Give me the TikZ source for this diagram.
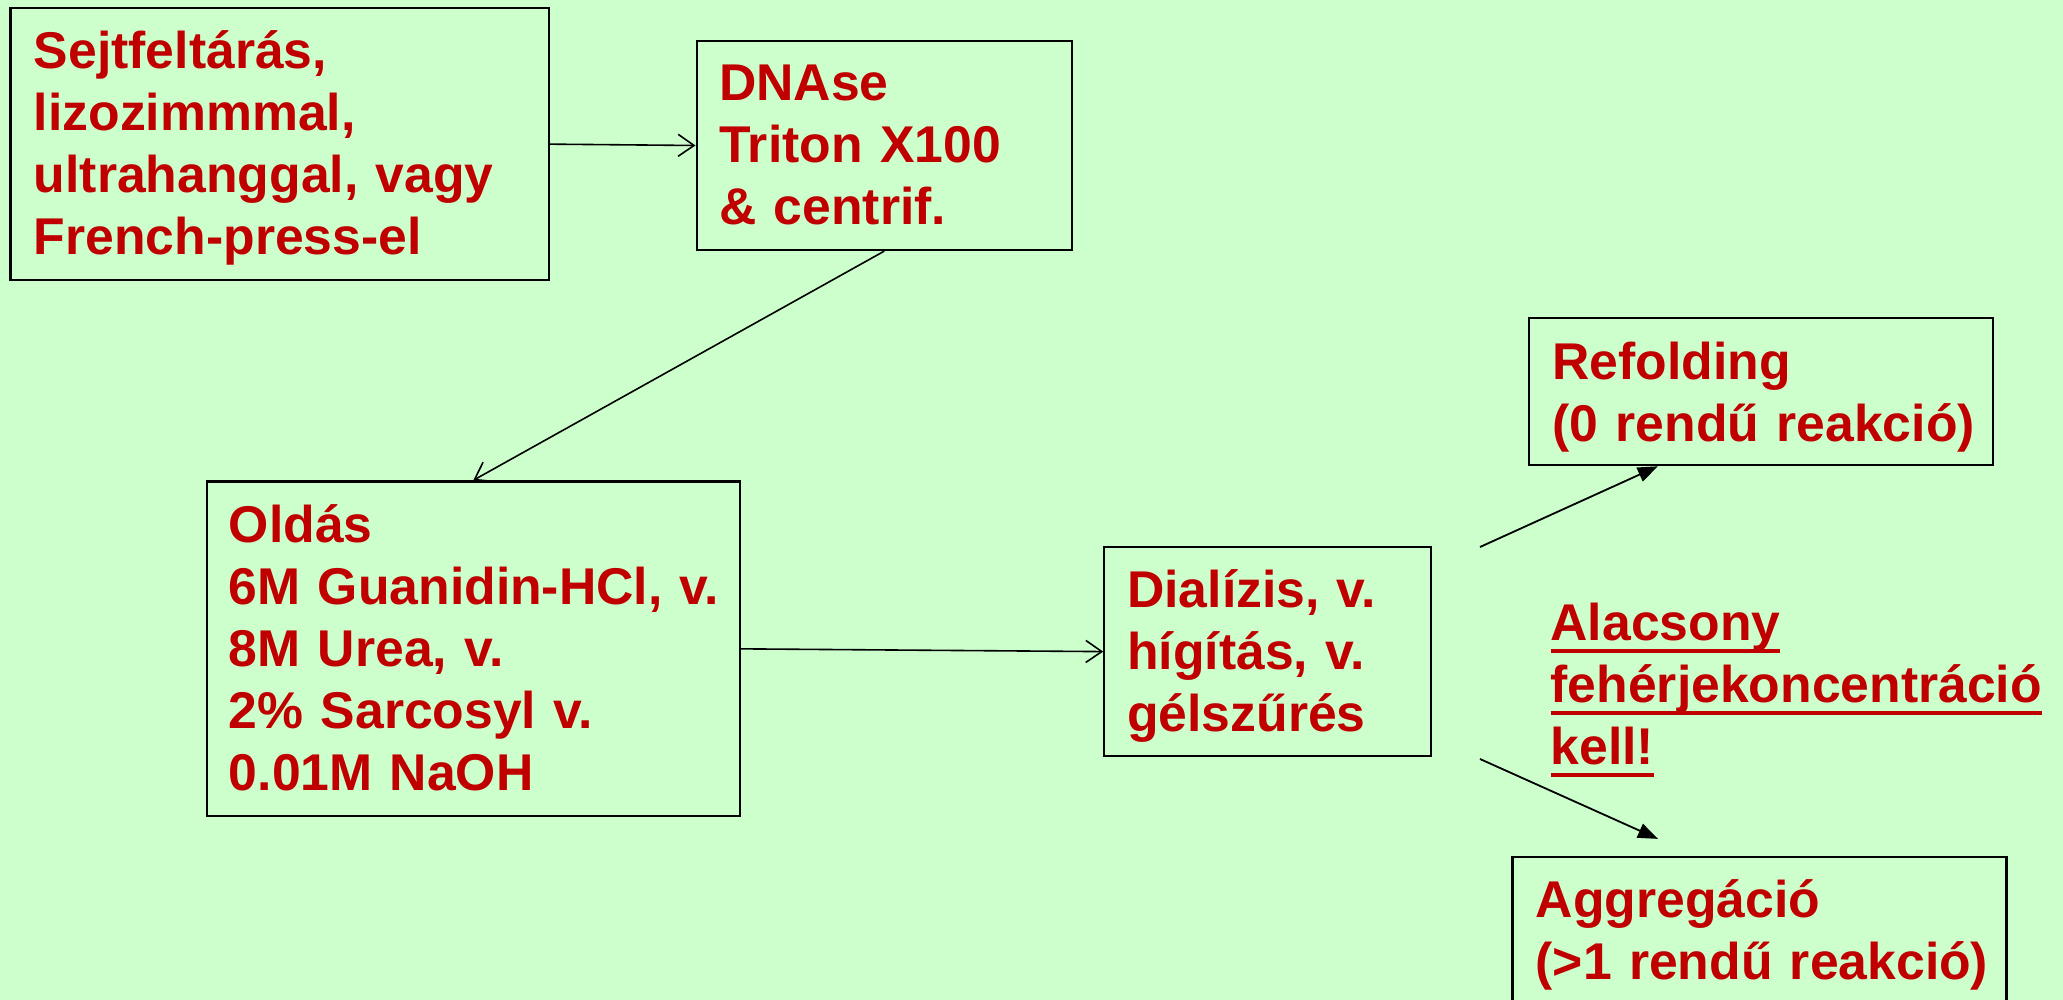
\documentclass[tikz,border=0pt]{standalone}
\usepackage{fontspec}
\setmainfont{Liberation Sans}
\usetikzlibrary{arrows.meta}
\definecolor{bg}{HTML}{CCFFCC}
\definecolor{txtred}{HTML}{C00000}
\newcommand\ulx[1]{\leavevmode\setbox0\hbox{#1}\rlap{\rule[-12.8pt]{\wd0}{3.6pt}}\box0}
\begin{document}
\begin{tikzpicture}[x=1pt,y=-1pt,
  box/.style={draw=black, line width=2.2pt, inner sep=0pt, rectangle},
  txt/.style={anchor=base west, inner sep=0pt, text width=640pt, align=left, text=txtred, font=\fontsize{51.7}{62}\selectfont\bfseries},
  openarrow/.style={line width=1.6pt, -{Straight Barb[length=16pt,width=22pt,line width=1.6pt]}},
  fillarrow/.style={line width=1.8pt, -{Triangle[length=20pt,width=15pt]}}]
\fill[bg] (0,0) rectangle (2063,1000);
\useasboundingbox (0,0) rectangle (2063,1000);
\clip (0,0) rectangle (2063,1000);

% boxes
\node[box, minimum width=538.5pt, minimum height=271.7pt] (sejt) at (279.75,144.15) {};
\node[box, minimum width=375.4pt, minimum height=209pt] (dnase) at (884.3,145.5) {};
\node[box, minimum width=532.7pt, minimum height=334.9pt] (oldas) at (473.25,648.85) {};
\node[box, minimum width=327pt, minimum height=209.4pt] (dial) at (1267.8,651.6) {};
\node[box, minimum width=464.2pt, minimum height=147.3pt] (refold) at (1760.8,391.55) {};
\node[box, minimum width=493.9pt, minimum height=150pt] (aggr) at (1759.5,932) {};

% texts
\node[txt] (sejtT) at (33.7,68.3) {Sejtfelt\'ar\'as,\\lizozimmmal,\\ultrahanggal, vagy\\French-press-el};
\node[txt] (dnaseT) at (719,101) {DNAse\\Triton X100\\\& centrif.};
\node[txt] (oldasT) at (228.7,542) {Old\'as\\6M Guanidin-HCl, v.\\8M Urea, v.\\2\% Sarcosyl v.\\0.01M NaOH};
\node[txt] (dialT) at (1127,607) {Dial\'izis, v.\\h\'ig\'it\'as, v.\\g\'elsz\H{u}r\'es};
\node[txt] (refoldT) at (1552.3,379.5) {Refolding\\(0 rend\H{u} reakci\'o)};
\node[txt] (aggrT) at (1535.5,917.4) {Aggreg\'aci\'o\\(>1 rend\H{u} reakci\'o)};
\node[txt] (alacT) at (1550.4,640) {\ulx{Alacsony}\\\ulx{feh\'erjekoncentr\'aci\'o}\\\ulx{kell!}};

% connectors
\draw[openarrow] (sejt.east) -- (dnase.west);
\draw[openarrow] (dnase.south) -- (oldas.north);
\draw[openarrow] (oldas.east) -- (dial.west);
\coordinate (up0) at (1480,547);
\coordinate (dn0) at (1480,759);
\draw[fillarrow] (up0) -- ([xshift=-103pt]refold.south);
\draw[fillarrow] (dn0) -- ([xshift=-101.5pt,yshift=17pt]aggr.north);
\end{tikzpicture}
\end{document}
